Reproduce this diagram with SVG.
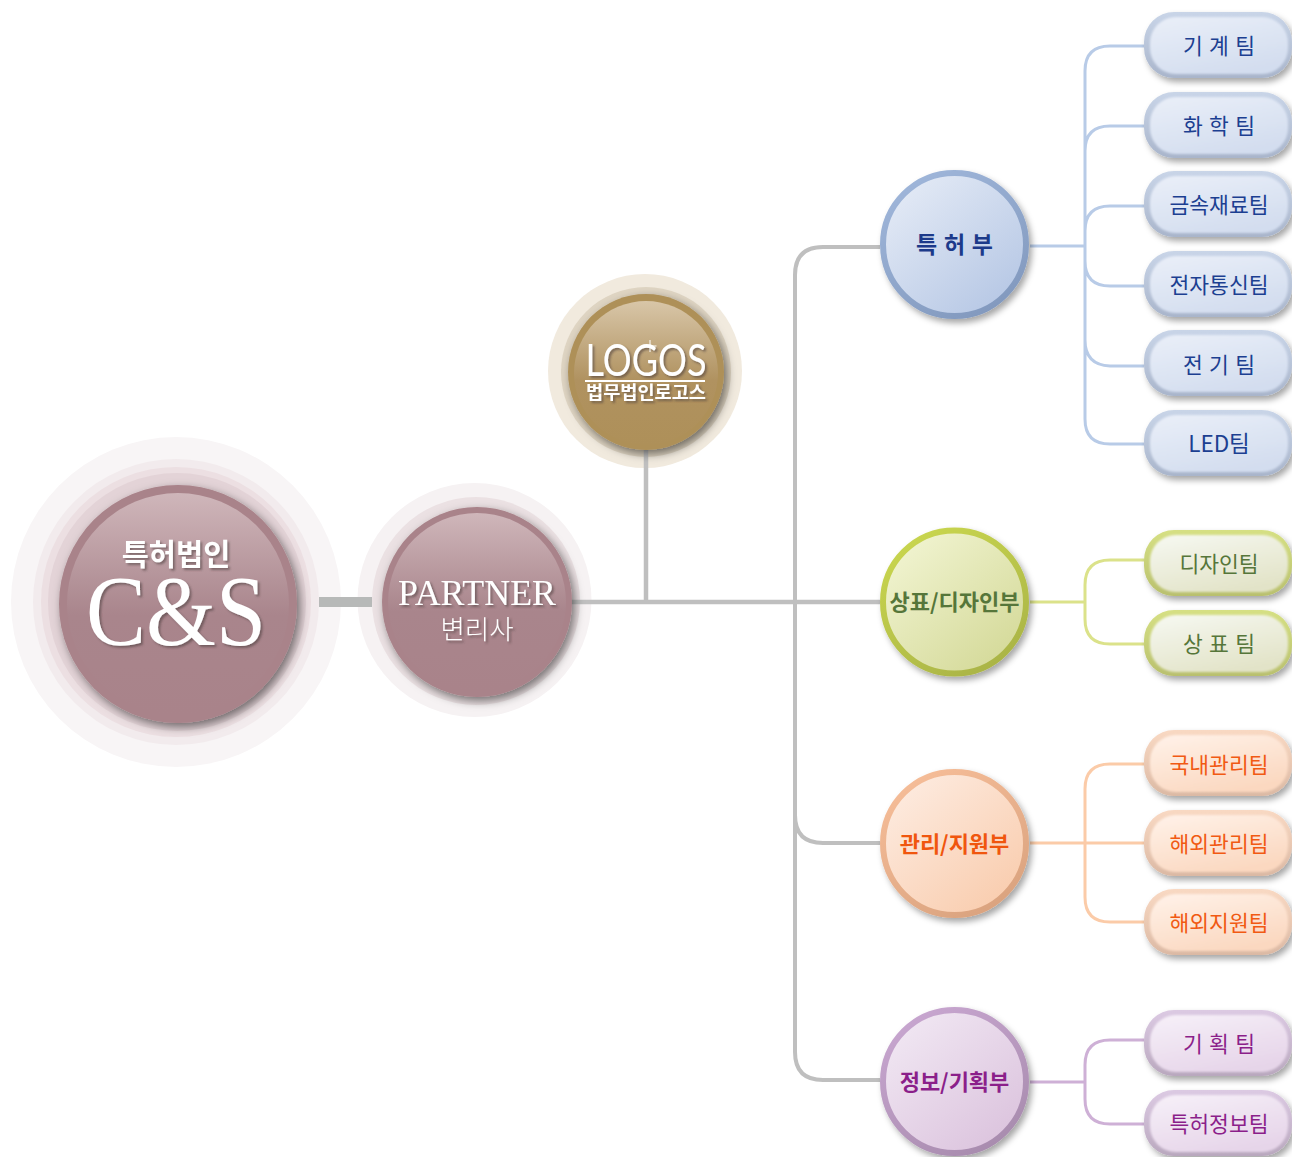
<svg xmlns="http://www.w3.org/2000/svg" width="1292" height="1157" viewBox="0 0 1292 1157">
<style>
text{text-anchor:middle;font-family:"Noto Sans CJK KR","Noto Sans",sans-serif}
.k{font-size:21.500px;font-weight:400}
.s{word-spacing:1.500px}
.d{font-size:22px;font-weight:700}
.bl{fill:#1c3f91}.gr{fill:#56763a}.or{fill:#f15a13}.pu{fill:#8b1f8a}
.w{fill:#fff;filter:url(#ts)}
.conn{fill:none}
.face{filter:url(#soft)}
</style>
<defs>
<filter id="sh" x="-20%" y="-20%" width="150%" height="150%"><feDropShadow dx="3" dy="4" stdDeviation="3" flood-color="#000" flood-opacity=".35"/></filter>
<filter id="shb" x="-20%" y="-20%" width="150%" height="150%"><feDropShadow dx="3" dy="4" stdDeviation="5" flood-color="#000" flood-opacity=".5"/></filter>
<filter id="soft" x="-5%" y="-5%" width="110%" height="110%"><feGaussianBlur stdDeviation=".8"/></filter>
<filter id="ts" x="-20%" y="-20%" width="140%" height="150%"><feDropShadow dx="2" dy="2" stdDeviation="1.2" flood-color="#4a3a3a" flood-opacity=".55"/></filter>
<linearGradient id="rose" x1="0" y1="0" x2="0" y2="1"><stop offset="0" stop-color="#cfb6ba"/><stop offset=".55" stop-color="#a9858c"/><stop offset="1" stop-color="#a9838a"/></linearGradient>
<linearGradient id="gold" x1="0" y1="0" x2="0" y2="1"><stop offset="0" stop-color="#d8c6a8"/><stop offset=".55" stop-color="#b09260"/><stop offset="1" stop-color="#ae9059"/></linearGradient>
<linearGradient id="cb" x1=".15" y1=".1" x2=".85" y2=".9"><stop offset="0" stop-color="#e2e9f5"/><stop offset="1" stop-color="#b7c8e5"/></linearGradient>
<linearGradient id="cg" x1=".15" y1=".1" x2=".85" y2=".9"><stop offset="0" stop-color="#f0f3cf"/><stop offset="1" stop-color="#d5da9a"/></linearGradient>
<linearGradient id="co" x1=".15" y1=".1" x2=".85" y2=".9"><stop offset="0" stop-color="#fdeade"/><stop offset="1" stop-color="#f9cdaf"/></linearGradient>
<linearGradient id="cp" x1=".15" y1=".1" x2=".85" y2=".9"><stop offset="0" stop-color="#f0e6f2"/><stop offset="1" stop-color="#dcc4de"/></linearGradient>
<linearGradient id="rb" x1=".2" y1="0" x2=".8" y2="1"><stop offset="0" stop-color="#9fb6da"/><stop offset="1" stop-color="#8198bd"/></linearGradient>
<linearGradient id="rg" x1=".2" y1="0" x2=".8" y2="1"><stop offset="0" stop-color="#c9d64f"/><stop offset="1" stop-color="#a9b346"/></linearGradient>
<linearGradient id="ro" x1=".2" y1="0" x2=".8" y2="1"><stop offset="0" stop-color="#f6bd98"/><stop offset="1" stop-color="#d9a27e"/></linearGradient>
<linearGradient id="rp" x1=".2" y1="0" x2=".8" y2="1"><stop offset="0" stop-color="#c8a6d0"/><stop offset="1" stop-color="#a78bad"/></linearGradient>
<linearGradient id="pb" x1=".1" y1="0" x2=".6" y2="1"><stop offset="0" stop-color="#e9eef8"/><stop offset="1" stop-color="#d3ddef"/></linearGradient>
<linearGradient id="pg" x1=".1" y1="0" x2=".6" y2="1"><stop offset="0" stop-color="#f6f8f0"/><stop offset="1" stop-color="#e2e3c8"/></linearGradient>
<linearGradient id="po" x1=".1" y1="0" x2=".6" y2="1"><stop offset="0" stop-color="#fff1e8"/><stop offset="1" stop-color="#fbd8c0"/></linearGradient>
<linearGradient id="pp" x1=".1" y1="0" x2=".6" y2="1"><stop offset="0" stop-color="#f6eff8"/><stop offset="1" stop-color="#e6d5e9"/></linearGradient>
<linearGradient id="bb" x1="0" y1="0" x2="0" y2="1"><stop offset="0" stop-color="#c9d5e8"/><stop offset="1" stop-color="#a9b5cb"/></linearGradient>
<linearGradient id="bg" x1="0" y1="0" x2="0" y2="1"><stop offset="0" stop-color="#d6e084"/><stop offset="1" stop-color="#b9c06e"/></linearGradient>
<linearGradient id="bo" x1="0" y1="0" x2="0" y2="1"><stop offset="0" stop-color="#f9d9c3"/><stop offset="1" stop-color="#dbb9a4"/></linearGradient>
<linearGradient id="bp" x1="0" y1="0" x2="0" y2="1"><stop offset="0" stop-color="#dccae3"/><stop offset="1" stop-color="#b9a8be"/></linearGradient>
</defs>

<g id="halos">
<circle cx="176" cy="602" r="165" fill="#f8f5f6"/>
<circle cx="176" cy="602" r="143" fill="#f2ebed"/>
<circle cx="176" cy="602" r="135" fill="#ecdfe2"/>
<circle cx="177" cy="602" r="129" fill="#e3d3d7"/>
<circle cx="474.500" cy="600" r="117" fill="#f6f2f3"/>
<circle cx="476" cy="601" r="104" fill="#ebe1e3"/>
<circle cx="645" cy="371" r="97" fill="#f1eade"/>
<circle cx="646" cy="372" r="85" fill="#dfd5c3"/>
</g>

<g id="connectors" class="conn">
<path d="M319 602H372" stroke="#b7b9b8" stroke-width="10"/>
<path d="M570 602H880M646 450V602" stroke="#bfbfbf" stroke-width="4.500"/>
<path d="M880 247H823Q795 247 795 275V1052Q795 1080 823 1080H880M795 815Q795 843 823 843H880" stroke="#bfbfbf" stroke-width="4"/>
<path d="M1030 246H1085M1144 46H1110Q1085 46 1085 71V419Q1085 444 1110 444H1144M1144 126H1110Q1085 126 1085 151V340Q1085 365 1110 366H1144M1144 206H1110Q1085 206 1085 231V261Q1085 286 1110 286H1144" stroke="#b8cbe7" stroke-width="3"/>
<path d="M1030 602H1085M1144 560H1110Q1085 560 1085 585V619Q1085 644 1110 644H1144" stroke="#dbe28a" stroke-width="3"/>
<path d="M1030 843H1144M1144 764H1110Q1085 764 1085 789V897Q1085 922 1110 922H1144" stroke="#fbcba8" stroke-width="3"/>
<path d="M1030 1082H1085M1144 1040H1110Q1085 1040 1085 1065V1099Q1085 1124 1110 1124H1144" stroke="#ceb0d6" stroke-width="3"/>
</g>

<g id="node-cs">
<circle cx="178" cy="604" r="119" fill="#a9838a" filter="url(#shb)"/>
<circle cx="178" cy="604" r="111" fill="url(#rose)"/>
<text x="176" y="565" class="w" style="font-size:29.500px;font-weight:700">특허법인</text>
<text x="176" y="644" class="w" style="font-family:'Liberation Serif',serif;font-size:100px" textLength="180" lengthAdjust="spacingAndGlyphs">C&amp;S</text>
</g>

<g id="node-partner">
<circle cx="477" cy="602" r="95" fill="#a9838a" filter="url(#shb)"/>
<circle cx="477" cy="602" r="89" fill="url(#rose)"/>
<text x="477" y="605" class="w" style="font-family:'Liberation Serif',serif;font-size:36px" textLength="158" lengthAdjust="spacingAndGlyphs">PARTNER</text>
<text x="477" y="639" class="w" style="font-size:26.500px;font-weight:300">변리사</text>
</g>

<g id="node-logos">
<circle cx="646" cy="372" r="78" fill="#ae9059" filter="url(#shb)"/>
<circle cx="646" cy="373" r="72" fill="url(#gold)"/>
<text x="646" y="376" class="w" style="font-family:Lato,sans-serif;font-size:45px;font-weight:400" textLength="121" lengthAdjust="spacingAndGlyphs">LOGOS</text>
<path d="M650 340V352M644.500 346H656.500" stroke="#fff" stroke-width="1"/>
<rect x="585" y="380" width="120" height="2" fill="#fff"/>
<text x="646" y="399" class="w" style="font-size:18px;font-weight:700" textLength="120" lengthAdjust="spacingAndGlyphs">법무법인로고스</text>
</g>

<g id="dept-patent">
<circle cx="954.500" cy="244.500" r="71.500" fill="url(#cb)" stroke="url(#rb)" stroke-width="6" filter="url(#sh)"/>
<text x="954.500" y="253" class="d s" style="fill:#1c3a8a;font-size:23px">특 허 부</text>
</g>
<g id="dept-design">
<circle cx="954.500" cy="602" r="71.500" fill="url(#cg)" stroke="url(#rg)" stroke-width="6" filter="url(#sh)"/>
<text x="954.500" y="610" class="d" style="fill:#56763a">상표/디자인부</text>
</g>
<g id="dept-admin">
<circle cx="954.500" cy="843.500" r="71.500" fill="url(#co)" stroke="url(#ro)" stroke-width="6" filter="url(#sh)"/>
<text x="954.500" y="852" class="d" style="fill:#f0560e">관리/지원부</text>
</g>
<g id="dept-info">
<circle cx="954.500" cy="1081.500" r="71.500" fill="url(#cp)" stroke="url(#rp)" stroke-width="6" filter="url(#sh)"/>
<text x="954.500" y="1090" class="d" style="fill:#8b1f8a">정보/기획부</text>
</g>

<g id="team-1"><rect x="1144" y="12" width="148" height="66" rx="30" fill="url(#bb)" filter="url(#sh)"/><rect x="1150" y="17" width="138" height="57" rx="26" fill="url(#pb)" class="face"/><text x="1219" y="54" class="k bl s">기 계 팀</text></g>
<g id="team-2"><rect x="1144" y="92" width="148" height="66" rx="30" fill="url(#bb)" filter="url(#sh)"/><rect x="1150" y="97" width="138" height="57" rx="26" fill="url(#pb)" class="face"/><text x="1219" y="134" class="k bl s">화 학 팀</text></g>
<g id="team-3"><rect x="1144" y="171" width="148" height="66" rx="30" fill="url(#bb)" filter="url(#sh)"/><rect x="1150" y="176" width="138" height="57" rx="26" fill="url(#pb)" class="face"/><text x="1219" y="213" class="k bl">금속재료팀</text></g>
<g id="team-4"><rect x="1144" y="251" width="148" height="66" rx="30" fill="url(#bb)" filter="url(#sh)"/><rect x="1150" y="256" width="138" height="57" rx="26" fill="url(#pb)" class="face"/><text x="1219" y="293" class="k bl">전자통신팀</text></g>
<g id="team-5"><rect x="1144" y="330" width="148" height="66" rx="30" fill="url(#bb)" filter="url(#sh)"/><rect x="1150" y="335" width="138" height="57" rx="26" fill="url(#pb)" class="face"/><text x="1219" y="373" class="k bl s">전 기 팀</text></g>
<g id="team-6"><rect x="1144" y="410" width="148" height="66" rx="30" fill="url(#bb)" filter="url(#sh)"/><rect x="1150" y="415" width="138" height="57" rx="26" fill="url(#pb)" class="face"/><text x="1219" y="452" class="k bl" style="font-size:22.500px">LED팀</text></g>
<g id="team-7"><rect x="1144" y="530" width="148" height="66" rx="30" fill="url(#bg)" filter="url(#sh)"/><rect x="1150" y="535" width="138" height="57" rx="26" fill="url(#pg)" class="face"/><text x="1219" y="572" class="k gr">디자인팀</text></g>
<g id="team-8"><rect x="1144" y="610" width="148" height="66" rx="30" fill="url(#bg)" filter="url(#sh)"/><rect x="1150" y="615" width="138" height="57" rx="26" fill="url(#pg)" class="face"/><text x="1219" y="652" class="k gr s">상 표 팀</text></g>
<g id="team-9"><rect x="1144" y="730" width="148" height="66" rx="30" fill="url(#bo)" filter="url(#sh)"/><rect x="1150" y="735" width="138" height="57" rx="26" fill="url(#po)" class="face"/><text x="1219" y="773" class="k or">국내관리팀</text></g>
<g id="team-10"><rect x="1144" y="810" width="148" height="66" rx="30" fill="url(#bo)" filter="url(#sh)"/><rect x="1150" y="815" width="138" height="57" rx="26" fill="url(#po)" class="face"/><text x="1219" y="852" class="k or">해외관리팀</text></g>
<g id="team-11"><rect x="1144" y="889" width="148" height="66" rx="30" fill="url(#bo)" filter="url(#sh)"/><rect x="1150" y="894" width="138" height="57" rx="26" fill="url(#po)" class="face"/><text x="1219" y="931" class="k or">해외지원팀</text></g>
<g id="team-12"><rect x="1144" y="1010" width="148" height="66" rx="30" fill="url(#bp)" filter="url(#sh)"/><rect x="1150" y="1015" width="138" height="57" rx="26" fill="url(#pp)" class="face"/><text x="1219" y="1052" class="k pu s">기 획 팀</text></g>
<g id="team-13"><rect x="1144" y="1090" width="148" height="66" rx="30" fill="url(#bp)" filter="url(#sh)"/><rect x="1150" y="1095" width="138" height="57" rx="26" fill="url(#pp)" class="face"/><text x="1219" y="1132" class="k pu">특허정보팀</text></g>
</svg>
